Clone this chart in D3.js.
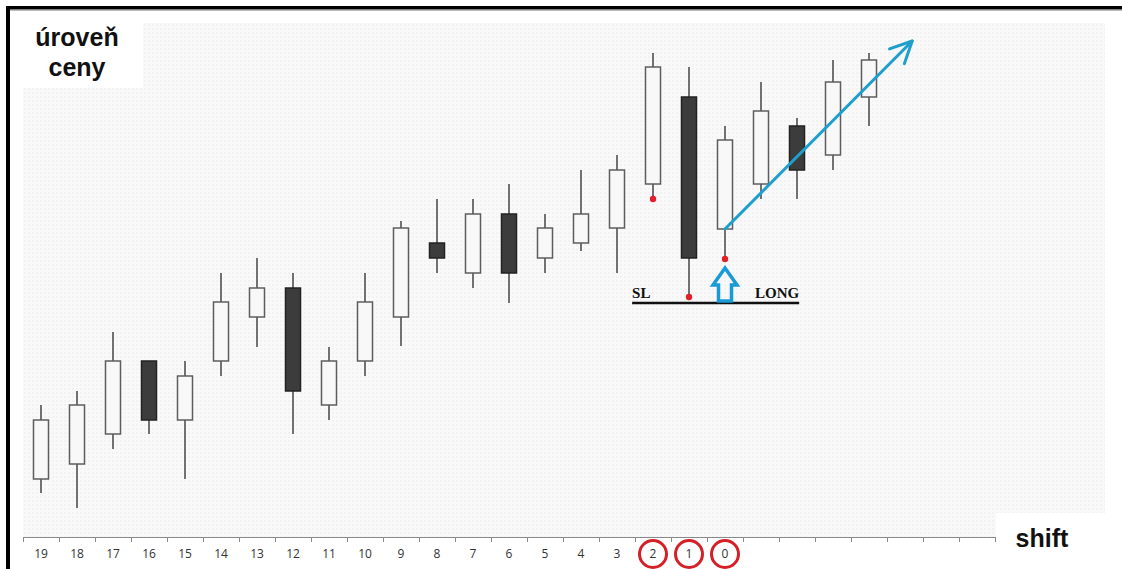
<!DOCTYPE html>
<html>
<head>
<meta charset="utf-8">
<script src="https://cdn.jsdelivr.net/npm/d3@7"></script>
<style>
  body { margin: 0; background: #fff; }
</style>
</head>
<body>
<div class="chart-container"></div>
<script>
// shift labels under the candles (slots after "0" stay empty)
const shiftLabels = ["19", "18", "17", "16", "15", "14", "13", "12", "11", "10",
                     "9", "8", "7", "6", "5", "4", "3", "2", "1", "0"];
const slotCount = 27;

// candle prices, one per slot, oldest first
const opens  = [12.2, 15.2, 21.2, 35.8, 24.0, 35.8, 44.6, 50.4, 27.0, 35.8, 44.6, 59.4,
                53.4, 65.2, 56.4, 59.4, 62.4, 71.2, 88.6, 62.2, 71.2, 82.8, 77.0, 88.6];
const highs  = [27.0, 29.8, 41.6, 35.8, 35.8, 53.4, 56.4, 53.4, 38.6, 53.4, 63.8, 68.2,
                68.2, 71.2, 65.2, 74.0, 77.0, 97.4, 94.6, 82.8, 91.6, 84.4, 96.0, 97.4];
const lows   = [9.4, 6.4, 18.2, 21.2, 12.2, 32.8, 38.6, 21.2, 24.0, 32.8, 38.8, 53.4,
                50.4, 47.4, 53.4, 57.8, 53.4, 68.2, 48.6, 56.2, 68.2, 68.2, 74.0, 82.8];
const closes = [24.0, 27.0, 35.8, 24.0, 32.8, 47.6, 50.4, 29.8, 35.8, 47.6, 62.4, 56.4,
                65.2, 53.4, 62.4, 65.2, 74.0, 94.6, 56.4, 80.0, 85.8, 74.0, 91.6, 96.0];

// marked lows (red dots) and the stop-loss level
const markedSlots = [17, 18, 19];
const slLevel = 47.4;
const slFrom = 16.92, slTo = 21.56;   // slot positions of the SL line ends
const entrySlot = 19;
const longArrowTip = 54.6;
// trend arrow: start / end as [slot, price]
const trendStart = [19, 62.2];
const trendEnd = [24.2, 99.8];
const circledLabels = ["2", "1", "0"];

function drawChart() {
    const width = 1122, height = 569;
    const plot = { left: 23, right: 1105, top: 23, bottom: 537 };

    const svg = d3.select(".chart-container").append("svg")
        .attr("width", width)
        .attr("height", height);

    const defs = svg.append("defs");
    const pat = defs.append("pattern")
        .attr("id", "dots")
        .attr("width", 4).attr("height", 4)
        .attr("patternUnits", "userSpaceOnUse");
    pat.append("rect").attr("width", 4).attr("height", 4).attr("fill", "#f9f9f9");
    pat.append("circle").attr("cx", 1).attr("cy", 1).attr("r", 0.8).attr("fill", "#ebebeb");

    // dotted plot background
    svg.append("rect")
        .attr("x", plot.left).attr("y", plot.top)
        .attr("width", plot.right - plot.left).attr("height", plot.bottom - plot.top)
        .attr("fill", "url(#dots)");

    // white label boxes
    svg.append("rect").attr("x", 10).attr("y", 9).attr("width", 133).attr("height", 79).attr("fill", "#fff");
    svg.append("rect").attr("x", 996).attr("y", 513).attr("width", 120).attr("height", 56).attr("fill", "#fff");

    // frame
    svg.append("rect").attr("x", 6).attr("y", 6).attr("width", width - 6).attr("height", 3.5).attr("fill", "#000");
    svg.append("rect").attr("x", 6).attr("y", 6).attr("width", 4).attr("height", height - 6).attr("fill", "#000");
    svg.append("line").attr("x1", 10).attr("x2", width).attr("y1", 10.5).attr("y2", 10.5)
        .attr("stroke", "#bbb").attr("stroke-width", 1);

    const x = d3.scaleLinear().domain([0, slotCount]).range([23, 995]);
    const y = d3.scaleLinear().domain([0, 100]).range([540, 40]);
    const bodyW = 15;

    // x axis with ticks at slot borders
    const axis = d3.axisBottom(x)
        .tickValues(d3.range(0, slotCount + 1))
        .tickFormat("")
        .tickSize(5)
        .tickSizeOuter(0);
    const ax = svg.append("g")
        .attr("transform", `translate(0, ${plot.bottom})`)
        .call(axis);
    ax.select(".domain").attr("stroke", "#8a8a8a").attr("stroke-width", 1.2);
    ax.selectAll(".tick line").attr("stroke", "#8a8a8a");

    svg.selectAll(".shift-label")
        .data(shiftLabels)
        .enter()
        .append("text")
            .attr("class", "shift-label")
            .attr("x", (d, i) => x(i + 0.5))
            .attr("y", 558)
            .attr("text-anchor", "middle")
            .style("font-family", "'Open Sans', 'Noto Sans', sans-serif")
            .style("font-size", "12px")
            .attr("fill", "#333")
            .text(d => d);

    svg.selectAll(".label-ring")
        .data(circledLabels)
        .enter()
        .append("circle")
            .attr("cx", d => x(shiftLabels.indexOf(d) + 0.5))
            .attr("cy", 554)
            .attr("r", 13.5)
            .attr("fill", "none")
            .attr("stroke", "#d42027")
            .attr("stroke-width", 3);

    const candles = opens.map((o, i) => ({ i, o, h: highs[i], l: lows[i], c: closes[i] }));

    const g = svg.append("g");
    g.selectAll(".wick")
        .data(candles)
        .enter()
        .append("line")
            .attr("x1", d => x(d.i + 0.5)).attr("x2", d => x(d.i + 0.5))
            .attr("y1", d => y(d.h)).attr("y2", d => y(d.l))
            .attr("stroke", "#3a3a3a")
            .attr("stroke-width", 1.4);

    g.selectAll(".body")
        .data(candles)
        .enter()
        .append("rect")
            .attr("x", d => x(d.i + 0.5) - bodyW / 2)
            .attr("y", d => y(Math.max(d.o, d.c)))
            .attr("width", bodyW)
            .attr("height", d => Math.abs(y(d.o) - y(d.c)))
            .attr("fill", d => d.c >= d.o ? "#f8f8f8" : "#3c3c3c")
            .attr("stroke", d => d.c >= d.o ? "#5e5e5e" : "#222")
            .attr("stroke-width", 1.5);

    // red dots on the marked lows
    g.selectAll(".low-dot")
        .data(markedSlots)
        .enter()
        .append("circle")
            .attr("cx", d => x(d + 0.5))
            .attr("cy", d => y(lows[d]))
            .attr("r", 3.2)
            .attr("fill", "#e0202a");

    // stop-loss line and labels
    const slY = y(slLevel);
    svg.append("line")
        .attr("x1", x(slFrom)).attr("x2", x(slTo))
        .attr("y1", slY).attr("y2", slY)
        .attr("stroke", "#111").attr("stroke-width", 2.5);
    const serif = "'Liberation Serif', 'DejaVu Serif', serif";
    svg.append("text")
        .attr("x", x(slFrom)).attr("y", slY - 5)
        .style("font-family", serif)
        .style("font-weight", "bold").style("font-size", "15px")
        .attr("fill", "#111")
        .text("SL");
    svg.append("text")
        .attr("x", x(slTo)).attr("y", slY - 5)
        .attr("text-anchor", "end")
        .style("font-family", serif)
        .style("font-weight", "bold").style("font-size", "15px")
        .attr("fill", "#111")
        .text("LONG");

    // hollow up arrow at the entry candle
    const ax0 = x(entrySlot + 0.5), tipY = y(longArrowTip) + 1, baseY = slY - 2;
    const headY = tipY + 17;
    const upArrow = [
        [ax0, tipY], [ax0 + 12, headY], [ax0 + 6.5, headY], [ax0 + 6.5, baseY],
        [ax0 - 6.5, baseY], [ax0 - 6.5, headY], [ax0 - 12, headY]
    ];
    svg.append("path")
        .attr("d", d3.line()(upArrow) + "Z")
        .attr("fill", "none")
        .attr("stroke", "#1a9bd6")
        .attr("stroke-width", 3.5)
        .attr("stroke-linejoin", "miter");

    // trend arrow with an open head
    const p0 = [x(trendStart[0] + 0.5), y(trendStart[1])];
    const p1 = [x(trendEnd[0] + 0.5), y(trendEnd[1])];
    const back = Math.atan2(p0[1] - p1[1], p0[0] - p1[0]);
    const armLen = 24, spread = 0.45;
    const arm = a => [p1[0] + armLen * Math.cos(a), p1[1] + armLen * Math.sin(a)];
    const trend = svg.append("g")
        .attr("fill", "none")
        .attr("stroke", "#1f9fcb")
        .attr("stroke-width", 3)
        .attr("stroke-linecap", "round")
        .attr("stroke-linejoin", "round");
    trend.append("path").attr("d", d3.line()([p0, p1]));
    trend.append("path").attr("d", d3.line()([arm(back - spread), p1, arm(back + spread)]));

    // corner labels
    const lab = svg.append("g")
        .style("font-family", "'Liberation Sans', Arial, sans-serif")
        .style("font-weight", "bold")
        .style("font-size", "25px")
        .attr("fill", "#111");
    lab.append("text").attr("x", 77).attr("y", 46).attr("text-anchor", "middle").text("úroveň");
    lab.append("text").attr("x", 77).attr("y", 76).attr("text-anchor", "middle").text("ceny");
    lab.append("text").attr("x", 1042).attr("y", 547).attr("text-anchor", "middle").text("shift");
}

drawChart();
</script>
</body>
</html>
